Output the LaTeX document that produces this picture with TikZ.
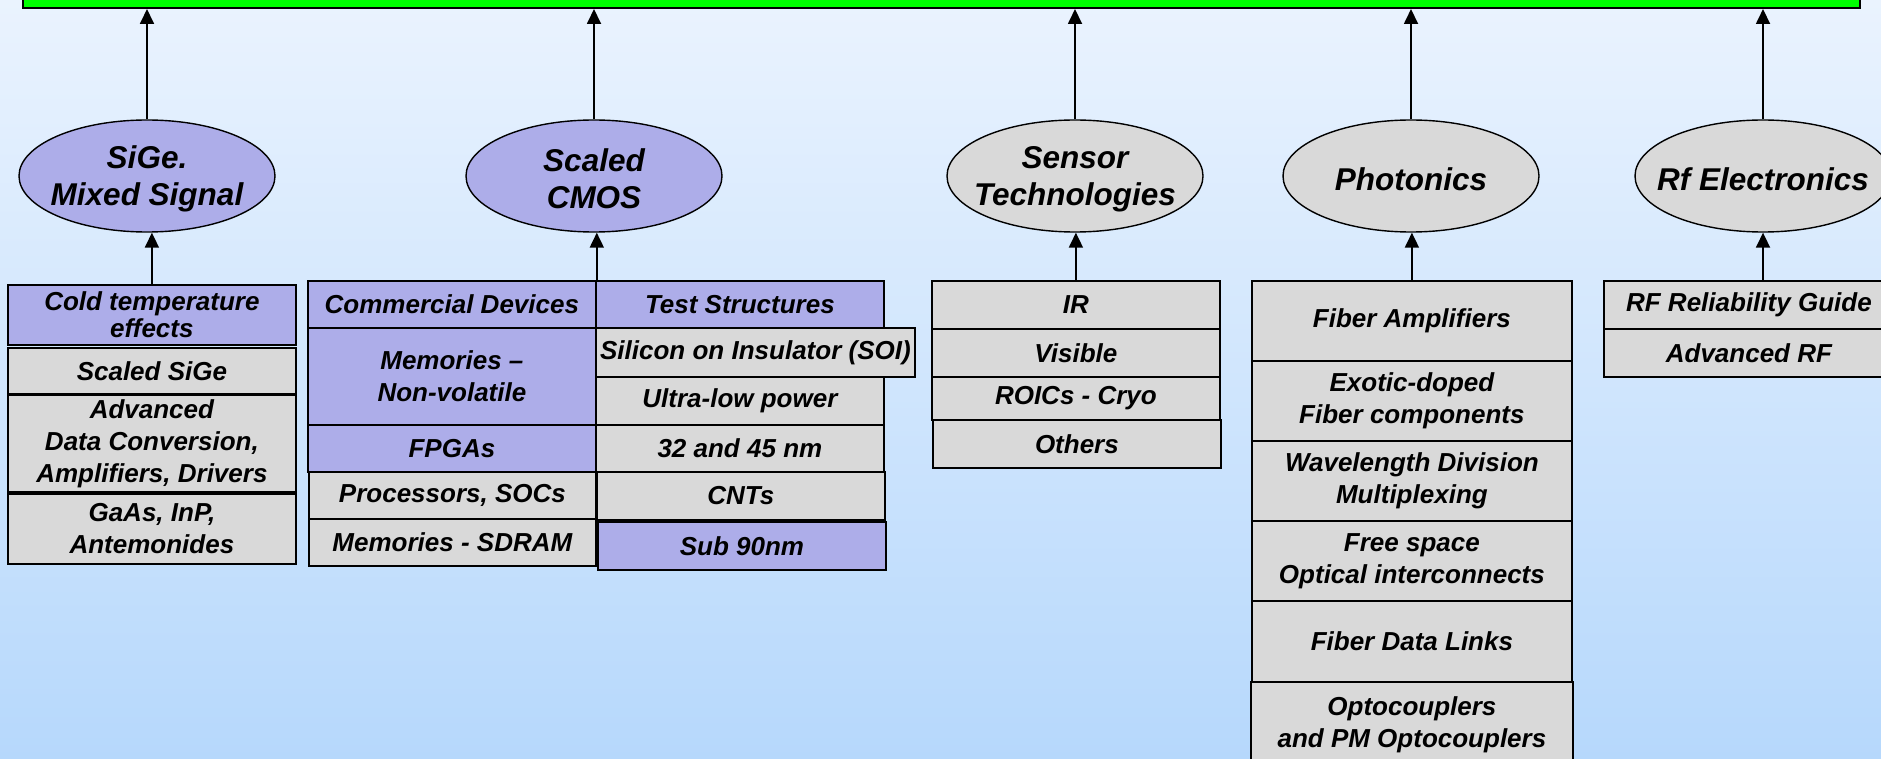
\documentclass[tikz,border=0pt]{standalone}
\usepackage{fontspec}
\setmainfont{Liberation Sans}
\usetikzlibrary{shapes.geometric,arrows.meta}
\definecolor{bgtop}{RGB}{234,243,254}
\definecolor{bgbot}{RGB}{182,216,252}
\definecolor{lav}{RGB}{173,173,233}
\definecolor{cellgray}{RGB}{217,217,217}
\definecolor{barGreen}{RGB}{0,255,0}
\tikzset{
  cell/.style={draw=black, line width=1.8pt, inner sep=0pt, anchor=north west,
    align=center, font=\fontsize{26}{32}\selectfont\bfseries\itshape},
  gcell/.style={cell, fill=cellgray},
  pcell/.style={cell, fill=lav},
  topic/.style={ellipse, draw=black, line width=1.4pt, inner sep=0pt,
    minimum width=256pt, minimum height=112pt},
  topictext/.style={inner sep=0pt, align=center, yshift=-3pt,
    font=\fontsize{31.5}{37}\selectfont\bfseries\itshape},
  ptopic/.style={topic, fill=lav},
  gtopic/.style={topic, fill=cellgray},
  feed/.style={line width=1.8pt, -{Triangle[length=15pt,width=14pt]}}
}
\begin{document}
\begin{tikzpicture}[x=1pt,y=-1pt]
\useasboundingbox (0,0) rectangle (1881,759);
\clip (0,0) rectangle (1881,759);
% backdrop
\shade[top color=bgtop, bottom color=bgbot] (0,0) rectangle (1881,759);

% banner along the top edge
\node[draw=black, fill=barGreen, line width=2pt, inner sep=0pt, anchor=north west,
  minimum width=1837pt, minimum height=40pt] (bar) at (22,-33) {};

% technology areas (fixed-size ellipses, text laid over the centre)
\node[ptopic, label={[topictext]center:SiGe.\\Mixed Signal}] (sige) at (147,176) {};
\node[ptopic, label={[topictext]center:Scaled\\CMOS}] (cmos) at (594,176) {};
\node[gtopic, label={[topictext]center:Sensor\\Technologies}] (sens) at (1075,176) {};
\node[gtopic, label={[topictext]center:Photonics}] (phot) at (1411,176) {};
\node[gtopic, label={[topictext]center:Rf Electronics}] (rfel) at (1763,176) {};

% SiGe / mixed signal column
\node[pcell, minimum width=288pt, minimum height=60pt, font=\fontsize{26}{27}\selectfont\bfseries\itshape] (c1) at (7,284) {Cold temperature\\effects};
\node[gcell, minimum width=288pt, minimum height=46pt] (c2) at (7,347) {Scaled SiGe};
\node[gcell, minimum width=288pt, minimum height=97pt] (c3) at (7,394) {Advanced\\Data Conversion,\\Amplifiers, Drivers};
\node[gcell, minimum width=288pt, minimum height=70pt] (c4) at (7,493) {GaAs, InP,\\Antemonides};

% scaled CMOS, left column
\node[pcell, minimum width=288pt, minimum height=47pt] (m1) at (307,280) {Commercial Devices};
\node[pcell, minimum width=288pt, minimum height=97pt] (m2) at (307,327) {Memories –\\Non-volatile};
\node[pcell, minimum width=288pt, minimum height=47pt] (m3) at (307,424) {FPGAs};
\node[gcell, minimum width=287pt, minimum height=47pt] (m4) at (308,471) {Processors, SOCs};
\node[gcell, minimum width=287pt, minimum height=47pt] (m5) at (308,518) {Memories - SDRAM};

% scaled CMOS, right column
\node[pcell, minimum width=288pt, minimum height=47pt] (t1) at (595,280) {Test Structures};
\node[gcell, minimum width=319pt, minimum height=49pt] (t2) at (595,327) {Silicon on Insulator (SOI)};
\node[gcell, minimum width=288pt, minimum height=48pt] (t3) at (595,376) {Ultra-low power};
\node[gcell, minimum width=288pt, minimum height=47pt] (t4) at (595,424) {32 and 45 nm};
\node[gcell, minimum width=288pt, minimum height=48pt] (t5) at (596,471) {CNTs};
\node[pcell, minimum width=288pt, minimum height=48pt] (t6) at (597,521) {Sub 90nm};

% sensor column
\node[gcell, minimum width=288pt, minimum height=48pt] (s1) at (931,280) {IR};
\node[gcell, minimum width=288pt, minimum height=48pt] (s2) at (931,328) {Visible};
\node[gcell, minimum width=288pt, minimum height=43pt] (s3) at (931,376) {ROICs - Cryo};
\node[gcell, minimum width=288pt, minimum height=48pt] (s4) at (932,419) {Others};

% photonics column
\node[gcell, minimum width=320pt, minimum height=80pt] (p1) at (1251,280) {Fiber Amplifiers};
\node[gcell, minimum width=320pt, minimum height=80pt] (p2) at (1251,360) {Exotic-doped\\Fiber components};
\node[gcell, minimum width=320pt, minimum height=80pt] (p3) at (1251,440) {Wavelength Division\\Multiplexing};
\node[gcell, minimum width=320pt, minimum height=80pt] (p4) at (1251,520) {Free space\\Optical interconnects};
\node[gcell, minimum width=320pt, minimum height=81pt] (p5) at (1251,600) {Fiber Data Links};
\node[gcell, minimum width=322pt, minimum height=86pt] (p6) at (1250,681) {Optocouplers\\and PM Optocouplers};

% RF column
\node[gcell, minimum width=290pt, minimum height=48pt] (r1) at (1603,280) {RF Reliability Guide};
\node[gcell, minimum width=290pt, minimum height=48pt] (r2) at (1603,328) {Advanced RF};

% columns feed their areas
\draw[feed] (c1.north) -- (c1.north |- sige.south);
\draw[feed] (m1.north east) -- (m1.north east |- cmos.south);
\draw[feed] (s1.north) -- (s1.north |- sens.south);
\draw[feed] (p1.north) -- (p1.north |- phot.south);
\draw[feed] (rfel.south |- r1.north) -- (rfel.south);

% areas feed the banner
\foreach \t in {sige,cmos,sens,phot,rfel}
  \draw[feed] (\t.north) -- (\t.north |- bar.south);
\end{tikzpicture}
\end{document}
